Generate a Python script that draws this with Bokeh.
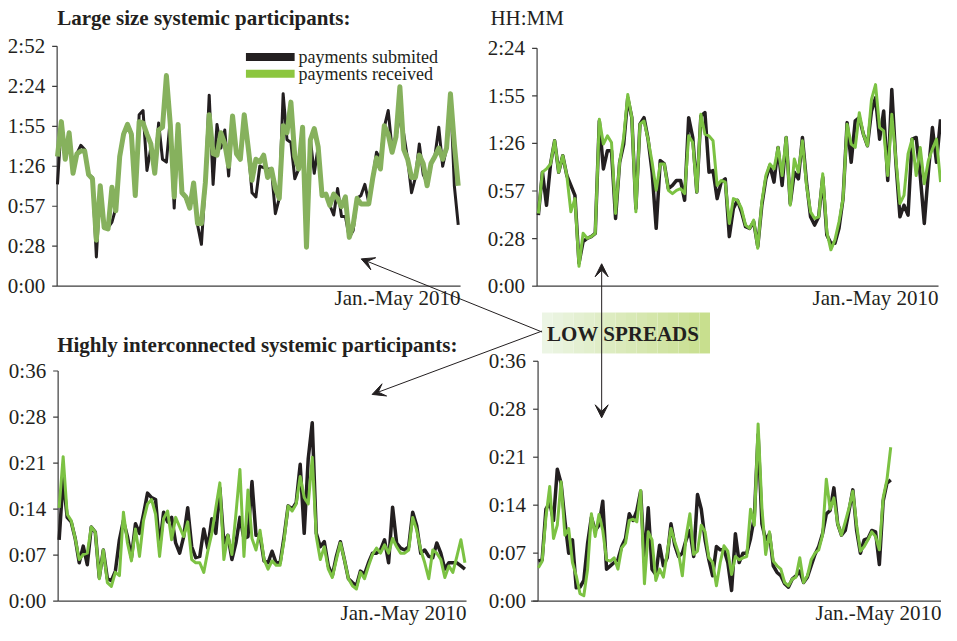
import numpy as np
from bokeh.plotting import figure
from bokeh.models import Range1d, Arrow, VeeHead, Label
from bokeh.core.properties import value
from bokeh.embed import file_html
from bokeh.resources import INLINE

FONT = "Liberation Serif"
INK = "#231f20"
AXIS = "#3c3c3c"

# ---------------- data: minutes per trading day, Jan.-May 2010 ----------------
large_left_submitted = [73, 117, 92, 109, 83, 95, 101, 98, 80, 78,
                        21, 72, 42, 42, 46, 56, 93, 108, 116, 110,
                        65, 123, 126, 83, 99, 84, 117, 91, 89, 120,
                        56, 116, 67, 63, 56, 74, 44, 30, 74, 137,
                        73, 116, 99, 112, 79, 122, 95, 91, 123, 100,
                        67, 64, 86, 85, 84, 84, 52, 63, 138, 105,
                        103, 77, 84, 114, 28, 105, 81, 100, 65, 66,
                        58, 51, 70, 50, 50, 35, 40, 63, 65, 73,
                        60, 77, 96, 91, 114, 126, 98, 107, 122, 109,
                        91, 67, 78, 102, 80, 74, 88, 93, 114, 86,
                        99, 138, 72, 44]
large_left_received = [93, 118, 91, 110, 81, 95, 97, 97, 80, 77,
                       33, 72, 42, 41, 71, 54, 93, 109, 116, 109,
                       65, 118, 117, 109, 102, 81, 112, 114, 151, 116,
                       64, 116, 67, 64, 56, 74, 45, 45, 74, 123,
                       95, 94, 110, 102, 86, 122, 95, 91, 123, 100,
                       76, 91, 89, 94, 78, 84, 70, 63, 115, 110,
                       132, 93, 84, 114, 28, 105, 113, 100, 65, 66,
                       58, 66, 63, 57, 64, 35, 44, 63, 59, 59,
                       59, 77, 92, 84, 115, 109, 96, 107, 143, 98,
                       91, 78, 78, 94, 88, 72, 88, 93, 99, 91,
                       99, 138, 102, 72]

large_right_submitted = [43, 69, 49, 74, 88, 69, 79, 67, 61, 55,
                         14, 27, 29, 30, 32, 100, 71, 82, 82, 41,
                         75, 86, 114, 102, 47, 98, 102, 89, 69, 35,
                         76, 74, 59, 61, 64, 64, 52, 102, 90, 57,
                         103, 105, 69, 70, 53, 63, 65, 30, 47,
                         52, 45, 36, 35, 39, 24, 49, 65, 73, 63,
                         84, 61, 90, 50, 69, 65, 90, 63, 42, 37,
                         42, 66, 31, 26, 26, 35, 53, 99, 75, 100,
                         102, 92, 85, 106, 114, 89, 106, 64, 119, 75,
                         42, 49, 43, 89, 90, 67, 38, 69, 96, 75,
                         101]
large_right_received = [44, 69, 71, 74, 88, 69, 79, 67, 45, 53,
                        12, 32, 29, 30, 32, 101, 86, 91, 87, 44,
                        75, 90, 116, 102, 45, 98, 100, 89, 75, 58,
                        74, 74, 58, 56, 58, 59, 56, 91, 87, 57,
                        104, 92, 91, 88, 61, 64, 63, 38, 53,
                        52, 47, 37, 35, 40, 23, 51, 67, 74, 71,
                        84, 67, 90, 49, 77, 69, 88, 61, 45, 41,
                        42, 68, 33, 22, 28, 39, 53, 98, 86, 84,
                        105, 92, 85, 113, 122, 96, 94, 67, 104, 77,
                        50, 55, 80, 89, 67, 84, 62, 76, 83, 89,
                        63]

inter_left_submitted = [9.6, 19.2, 13.1, 12.4, 9.8, 6.0, 8.6, 5.7, 11.6, 10.8,
                        3.7, 8.0, 3.5, 3.2, 4.7, 9.6, 12.6, 10.1, 6.8, 12.1,
                        10.6, 13.6, 16.9, 16.2, 15.9, 8.5, 13.9, 12.4, 13.1, 9.1,
                        7.5, 10.1, 14.6, 8.5, 6.8, 7.0, 11.3, 8.3, 12.9, 10.6,
                        17.7, 9.1, 10.3, 6.5, 9.1, 13.1, 9.8, 10.1, 18.7, 10.3,
                        10.3, 6.3, 6.0, 7.8, 6.0, 6.0, 10.1, 14.9, 14.4, 15.4,
                        21.4, 10.6, 22.3, 27.9, 10.6, 8.5, 9.3, 5.5, 4.0, 7.0,
                        9.3, 6.5, 3.5, 2.9, 2.4, 4.7, 4.2, 6.0, 7.5, 7.5,
                        8.0, 9.6, 6.0, 14.7, 9.1, 8.3, 8.0, 8.5, 13.9, 11.8,
                        7.5, 8.0, 7.0, 6.8, 9.1, 7.5, 5.0, 6.0, 6.0, 6.0,
                        5.5, 5.0]
inter_left_received = [14.6, 22.6, 13.6, 12.6, 9.8, 6.5, 7.3, 7.5, 11.6, 10.8,
                       3.5, 8.0, 2.9, 2.3, 4.5, 4.0, 13.9, 9.1, 6.3, 11.3,
                       7.0, 12.6, 15.2, 15.9, 13.6, 7.0, 12.9, 14.1, 9.6, 13.1,
                       11.6, 10.1, 12.4, 6.5, 6.0, 6.0, 4.5, 7.8, 10.6, 14.6,
                       18.5, 6.5, 10.3, 7.3, 13.6, 20.6, 7.0, 17.4, 9.8, 8.0,
                       11.1, 6.5, 5.0, 6.3, 5.6, 5.6, 9.6, 14.9, 14.1, 15.2,
                       19.5, 16.2, 15.2, 22.5, 10.1, 6.5, 8.5, 5.0, 3.7, 6.5,
                       9.1, 6.5, 3.5, 2.4, 1.9, 4.5, 3.5, 5.5, 7.3, 8.3,
                       7.5, 8.8, 7.5, 9.8, 8.5, 7.5, 7.5, 8.0, 13.1, 11.1,
                       8.0, 6.0, 3.5, 8.0, 7.5, 6.5, 3.7, 5.5, 4.5, 7.0,
                       9.6, 6.0]

inter_right_submitted = [6.0, 6.2, 13.8, 14.8, 12.1, 19.8, 17.7, 12.1, 7.2, 9.2,
                         2.0, 2.1, 3.1, 8.7, 12.6, 10.6, 11.4, 15.0, 4.8, 5.3,
                         5.8, 6.2, 8.2, 9.4, 13.1, 12.1, 13.6, 16.5, 5.8, 14.0,
                         4.8, 4.0, 8.4, 5.3, 6.5, 11.6, 8.4, 6.7, 7.2, 9.2,
                         10.6, 6.7, 16.0, 13.8,
                         9.2, 6.2, 3.8, 8.2, 7.7, 7.7, 5.8, 1.6, 10.1, 5.8,
                         7.2, 7.2, 9.4, 12.6, 25.0, 11.6, 9.2, 10.1, 5.3, 4.3,
                         3.8, 2.6, 2.1, 3.3, 3.8, 4.5, 2.8, 3.6, 5.3, 7.0,
                         8.2, 10.1, 13.1, 13.6, 17.0, 11.6, 9.9, 10.6, 13.6, 16.7,
                         10.6, 7.2, 9.2, 9.4, 10.6, 10.4, 5.5, 15.0, 17.7, 18.2]
inter_right_received = [5.0, 6.0, 12.6, 17.2, 9.4, 11.4, 17.9, 9.9, 10.9, 5.8,
                        3.8, 1.1, 0.8, 4.8, 13.1, 9.7, 13.0, 10.6, 6.2, 6.0,
                        6.5, 4.8, 8.0, 8.7, 12.1, 12.3, 11.9, 16.6, 2.6, 10.4,
                        9.2, 3.1, 4.8, 3.6, 7.2, 10.9, 8.9, 7.2, 3.8, 9.7,
                        13.1, 7.0, 7.5, 11.4,
                        10.4, 6.5, 5.8, 2.3, 5.8, 8.3, 7.5, 4.0, 6.7, 6.2,
                        6.5, 6.7, 13.8, 11.4, 26.6, 14.0, 7.0, 10.4, 6.0, 5.3,
                        4.8, 2.8, 2.3, 3.3, 3.6, 6.5, 2.8, 3.8, 6.2, 7.2,
                        7.7, 9.9, 18.3, 13.8, 15.5, 11.6, 9.9, 11.9, 14.0, 16.5,
                        11.4, 7.5, 8.2, 9.2, 10.4, 9.7, 7.7, 15.5, 18.2, 23.1]

ticks_large_left = [0, 28.67, 57.33, 86, 114.67, 143.33, 172]
labels_large_left = ["0:00", "0:28", "0:57", "1:26", "1:55", "2:24", "2:52"]
ticks_large_right = [0, 28.8, 57.6, 86.4, 115.2, 144]
labels_large_right = ["0:00", "0:28", "0:57", "1:26", "1:55", "2:24"]
ticks_inter = [0, 7.2, 14.4, 21.6, 28.8, 36]
labels_inter = ["0:00", "0:07", "0:14", "0:21", "0:28", "0:36"]

X_LABEL = "Jan.-May 2010"
series_names = ["payments submited", "payments received"]
title_large = "Large size systemic participants:"
title_inter = "Highly interconnected systemic participants:"
unit_label = "HH:MM"
callout = "LOW SPREADS"

# ---------------- figure: one canvas, four sub-panels ----------------
p = figure(width=941, height=625, x_range=Range1d(0, 947), y_range=Range1d(641, 0),
           x_axis_location=None, y_axis_location=None, toolbar_location=None,
           output_backend="svg", min_border=0, outline_line_color=None,
           background_fill_color="white", border_fill_color="white")
p.grid.visible = False

panels = [
    dict(sub=large_left_submitted, rec=large_left_received, ticks=ticks_large_left,
         labels=labels_large_left, x_px=(57, 463), y_px=(293, 47), x_dom=(-0.08, 103.6),
         y_dom=(0, 172), yaxis_px=57, green="#86b15d", w_sub=3, w_rec=5),
    dict(sub=large_right_submitted, rec=large_right_received, ticks=ticks_large_right,
         labels=labels_large_right, x_px=(540, 944), y_px=(293, 49), x_dom=(-0.32, 98.5),
         y_dom=(0, 144), yaxis_px=540, green="#7cc243", w_sub=3.5, w_rec=3),
    dict(sub=inter_left_submitted, rec=inter_left_received, ticks=ticks_inter,
         labels=labels_inter, x_px=(58, 469), y_px=(616, 380), x_dom=(-0.25, 101.4),
         y_dom=(0, 36), yaxis_px=58, green="#7cc243", w_sub=3.5, w_rec=3),
    dict(sub=inter_right_submitted, rec=inter_right_received, ticks=ticks_inter,
         labels=labels_inter, x_px=(534, 947), y_px=(616, 370), x_dom=(-1.91, 106.4),
         y_dom=(0, 36), yaxis_px=541, green="#7cc243", w_sub=3.5, w_rec=3),
]

for pn in panels:
    sp = p.subplot(x_source=Range1d(*pn["x_dom"]), y_source=Range1d(*pn["y_dom"]),
                   x_target=Range1d(*pn["x_px"]), y_target=Range1d(*pn["y_px"]))
    x0, x1 = pn["x_dom"]
    ppu = (pn["x_px"][1] - pn["x_px"][0]) / (x1 - x0)
    ax = x0 + (pn["yaxis_px"] - pn["x_px"][0]) / ppu
    tick = 5.0 / ppu
    n = len(pn["ticks"])
    # axes
    sp.segment(x0=[ax], y0=[pn["y_dom"][0]], x1=[ax], y1=[pn["y_dom"][1]],
               line_color=AXIS, line_width=1.2)
    sp.segment(x0=[x0], y0=[0], x1=[x1], y1=[0], line_color=AXIS, line_width=1.2)
    sp.segment(x0=[ax - tick] * n, y0=pn["ticks"], x1=[ax] * n, y1=pn["ticks"],
               line_color=AXIS, line_width=1.2)
    sp.text(x=[ax] * n, y=pn["ticks"], text=pn["labels"], x_offset=-12,
            text_align="right", text_baseline="middle", text_font=value(FONT),
            text_font_size="21px", text_color=INK)
    sp.text(x=[x1], y=[0], text=[X_LABEL], y_offset=0, text_align="right",
            text_baseline="top", text_font=value(FONT), text_font_size="21px",
            text_color=INK)
    days = list(range(len(pn["sub"])))
    sp.line(x=days, y=pn["sub"], line_color=INK, line_width=pn["w_sub"], line_join="round")
    days_r = list(range(len(pn["rec"])))
    sp.line(x=days_r, y=pn["rec"], line_color=pn["green"], line_width=pn["w_rec"],
            line_join="round")

# titles
for txt, x, y, bold in [(title_large, 57, 18, True), (unit_label, 493, 18, False),
                        (title_inter, 57, 353, True)]:
    p.add_layout(Label(x=x, y=y, text=txt, text_font=FONT, text_font_size="21px",
                       text_font_style="bold" if bold else "normal",
                       text_baseline="middle", text_color=INK))

# legend (top-left panel), drawn as swatches + labels
leg_colors = [INK, "#8cc63f"]
leg_y = [58, 75]
p.segment(x0=[247, 247], y0=leg_y, x1=[296, 296], y1=leg_y, line_color=leg_colors,
          line_width=8)
p.text(x=[300, 300], y=leg_y, text=series_names, text_baseline="middle",
       text_font=value(FONT), text_font_size="18px", text_color=INK)

# callout box with soft gradient
nb = 16
edges = np.linspace(545, 714, nb + 1)
c0 = np.array([236, 245, 228])
c1 = np.array([200, 223, 142])
cols = ["#%02x%02x%02x" % tuple(int(v) for v in (c0 + (c1 - c0) * t))
        for t in np.linspace(0, 1, nb)]
p.quad(left=edges[:-1], right=edges[1:], top=[320] * nb, bottom=[362] * nb,
       fill_color=cols, line_color=None)
p.add_layout(Label(x=550, y=342, text=callout, text_font=FONT, text_font_size="21px",
                   text_font_style="bold", text_baseline="middle", text_color=INK))

head = dict(size=13, fill_color=INK, line_color=INK, line_width=1)
p.add_layout(Arrow(x_start=545, y_start=340, x_end=363, y_end=265,
                   end=VeeHead(**head), line_color=INK, line_width=1))
p.add_layout(Arrow(x_start=545, y_start=339, x_end=374, y_end=404,
                   end=VeeHead(**head), line_color=INK, line_width=1))
p.add_layout(Arrow(x_start=605, y_start=270, x_end=605, y_end=428,
                   start=VeeHead(**head), end=VeeHead(**head), line_color=INK,
                   line_width=1))

open("out.html", "w").write(file_html(p, INLINE))
